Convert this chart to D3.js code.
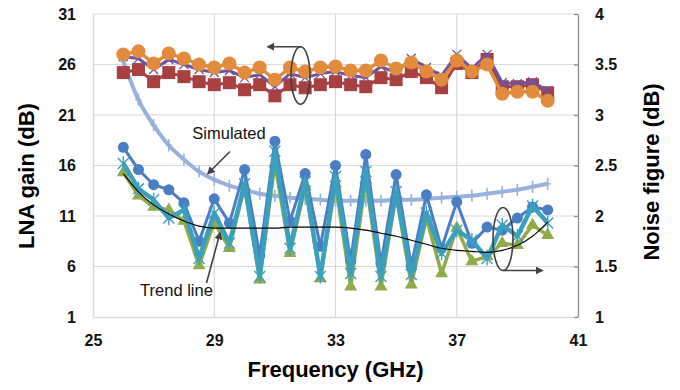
<!DOCTYPE html>
<html>
<head>
<meta charset="utf-8">
<script src="https://cdn.jsdelivr.net/npm/d3@7"></script>
<style>
  body { margin: 0; background: #fff; }
  text { font-family: Arial, 'Liberation Sans', sans-serif; }
</style>
</head>
<body>
<div id="chart"></div>
<script>
const freqs = [26, 26.5, 27, 27.5, 28, 28.5, 29, 29.5, 30, 30.5, 31, 31.5, 32, 32.5, 33,
               33.5, 34, 34.5, 35, 35.5, 36, 36.5, 37, 37.5, 38, 38.5, 39, 39.5, 40];

// LNA gain (dB), left axis
const gainOrange = [27.0, 27.3, 26.1, 27.1, 26.6, 26.0, 25.7, 26.1, 25.2, 25.7, 24.5, 25.7, 25.3, 25.7, 25.8,
                    25.4, 25.4, 26.4, 25.6, 26.2, 25.3, 24.5, 26.4, 25.3, 26.0, 23.1, 23.3, 23.3, 22.4];
const gainRed = [25.2, 25.5, 24.3, 25.2, 24.8, 24.3, 24.0, 24.2, 23.5, 24.0, 22.9, 24.0, 23.7, 24.0, 24.3,
                 24.0, 23.8, 24.7, 24.5, 25.3, 24.7, 23.7, 26.1, 25.2, 26.5, 23.8, 23.8, 24.0, 23.2];
const gainPurple = [26.8, 26.6, 25.5, 26.5, 26.0, 25.5, 25.2, 25.4, 24.7, 25.0, 23.8, 25.1, 24.7, 25.1, 25.3,
                    24.9, 24.7, 25.8, 25.2, 26.6, 25.7, 24.9, 27.0, 25.6, 27.0, 24.2, 24.1, 24.3, 23.4];

// Noise figure (dB), right axis
const nfBlue = [2.68, 2.46, 2.31, 2.26, 2.13, 1.75, 2.17, 1.93, 2.46, 1.61, 2.74, 1.95, 2.42, 1.70, 2.50,
                1.56, 2.61, 1.53, 2.41, 1.51, 2.21, 1.68, 2.14, 1.73, 1.89, 1.86, 1.98, 2.09, 2.06];
const nfTeal = [2.52, 2.27, 2.16, 1.98, 2.06, 1.58, 2.03, 1.73, 2.32, 1.40, 2.64, 1.68, 2.34, 1.40, 2.39,
                1.43, 2.44, 1.40, 2.24, 1.42, 2.03, 1.63, 1.86, 1.76, 1.58, 1.91, 1.80, 2.10, 1.93];
const nfGreen = [2.43, 2.20, 2.09, 2.06, 1.95, 1.51, 1.94, 1.68, 2.29, 1.37, 2.52, 1.63, 2.29, 1.38, 2.32,
                 1.30, 2.36, 1.30, 2.21, 1.32, 1.98, 1.43, 1.88, 1.55, 1.60, 1.73, 1.71, 1.91, 1.81];
const nfTrend = [2.42, 2.24, 2.11, 2.02, 1.95, 1.90, 1.88, 1.88, 1.88, 1.88, 1.88, 1.89, 1.89, 1.89, 1.89,
                 1.88, 1.86, 1.83, 1.80, 1.76, 1.72, 1.68, 1.66, 1.65, 1.64, 1.66, 1.71, 1.80, 1.94];
const nfSimulated = [3.53, 3.15, 2.90, 2.70, 2.56, 2.44, 2.36, 2.30, 2.26, 2.22, 2.20, 2.18, 2.17, 2.16, 2.15,
                     2.15, 2.15, 2.15, 2.16, 2.16, 2.17, 2.18, 2.19, 2.20, 2.22, 2.24, 2.26, 2.29, 2.32];

const xTicks = [25, 29, 33, 37, 41];
const gainTicks = [1, 6, 11, 16, 21, 26, 31];
const nfTicks = [1, 1.5, 2, 2.5, 3, 3.5, 4];

const width = 680, height = 390;
const margin = {top: 14, right: 102, bottom: 73, left: 93};

const svg = d3.select('#chart').append('svg')
    .attr('width', width)
    .attr('height', height);

const x = d3.scaleLinear().domain([25, 41]).range([margin.left, width - margin.right]);
const yL = d3.scaleLinear().domain([1, 31]).range([height - margin.bottom, margin.top]);
const yR = d3.scaleLinear().domain([1, 4]).range([height - margin.bottom, margin.top]);

const gridColor = '#d9d9d9';

// grid
svg.append('g')
  .selectAll('line')
  .data(gainTicks.slice(1))
  .join('line')
    .attr('x1', x(25)).attr('x2', x(41))
    .attr('y1', d => yL(d)).attr('y2', d => yL(d))
    .attr('stroke', gridColor).attr('stroke-width', 1.2);
svg.append('g')
  .selectAll('line')
  .data(xTicks.slice(1, -1))
  .join('line')
    .attr('x1', d => x(d)).attr('x2', d => x(d))
    .attr('y1', yL(1)).attr('y2', yL(31))
    .attr('stroke', gridColor).attr('stroke-width', 1.2);

// axes
const xAxis = svg.append('g')
    .attr('transform', 'translate(0,' + yL(1) + ')')
    .call(d3.axisBottom(x).tickValues(xTicks).tickSize(0).tickPadding(18).tickFormat(d3.format('d')));
xAxis.select('.domain').attr('stroke', gridColor).attr('stroke-width', 1.5);

const leftAxis = svg.append('g')
    .attr('transform', 'translate(' + x(25) + ',0)')
    .call(d3.axisLeft(yL).tickValues(gainTicks).tickSize(0).tickPadding(17).tickFormat(d3.format('d')));
leftAxis.select('.domain').attr('stroke', gridColor).attr('stroke-width', 1.5);

const rightAxis = svg.append('g')
    .attr('transform', 'translate(' + x(41) + ',0)')
    .call(d3.axisRight(yR).tickValues(nfTicks).tickSizeInner(-4).tickSizeOuter(0).tickPadding(17).tickFormat(d3.format('~g')));
rightAxis.select('.domain').attr('stroke', '#8c8c8c').attr('stroke-width', 1.3);
rightAxis.selectAll('.tick line').attr('stroke', '#8c8c8c').attr('stroke-width', 1.3);

svg.selectAll('.tick text')
    .attr('font-family', "Arial, 'Liberation Sans', sans-serif")
    .attr('font-size', 16)
    .attr('font-weight', 'bold')
    .attr('fill', '#111');

// axis titles
svg.append('text')
    .attr('x', (x(25) + x(41)) / 2)
    .attr('y', 377)
    .attr('text-anchor', 'middle')
    .attr('font-size', 22).attr('font-weight', 'bold')
    .text('Frequency (GHz)');
svg.append('text')
    .attr('transform', 'translate(34,176) rotate(-90)')
    .attr('text-anchor', 'middle')
    .attr('font-size', 22).attr('font-weight', 'bold')
    .text('LNA gain (dB)');
svg.append('text')
    .attr('transform', 'translate(659,172) rotate(-90)')
    .attr('text-anchor', 'middle')
    .attr('font-size', 22).attr('font-weight', 'bold')
    .text('Noise figure (dB)');

// markers
const markers = {
  circle: r => d3.symbol(d3.symbolCircle, Math.PI * r * r)(),
  square: s => d3.symbol(d3.symbolSquare, s * s)(),
  triangle: s => d3.symbol(d3.symbolTriangle, 0.433 * s * s)(),
  cross: s => 'M' + -s + ',' + -s + 'L' + s + ',' + s + 'M' + -s + ',' + s + 'L' + s + ',' + -s,
  star: s => 'M' + -s + ',' + -s + 'L' + s + ',' + s + 'M' + -s + ',' + s + 'L' + s + ',' + -s + 'M0,' + (-s * 1.3) + 'V' + (s * 1.3),
  plus: s => 'M0,' + -s + 'V' + s + 'M' + (-s * 0.5) + ',0H' + (s * 0.5)
};

function drawSeries(values, y, opt) {
  const pts = freqs.map((f, i) => [x(f), y(values[i])]);
  const g = svg.append('g');
  g.append('path')
      .datum(pts)
      .attr('fill', 'none')
      .attr('stroke', opt.color)
      .attr('stroke-width', opt.width)
      .attr('stroke-linejoin', 'round')
      .attr('d', d3.line().curve(opt.curve || d3.curveLinear));
  if (opt.marker) {
    g.selectAll('path.m')
      .data(pts)
      .join('path')
        .attr('class', 'm')
        .attr('transform', d => 'translate(' + d[0] + ',' + d[1] + ')')
        .attr('d', opt.marker)
        .attr('fill', opt.filled ? opt.color : 'none')
        .attr('stroke', opt.filled ? 'none' : opt.color)
        .attr('stroke-width', opt.mwidth || 1.5);
  }
}

// simulated noise figure underneath
drawSeries(nfSimulated, yR, {color: '#98b1da', width: 4, curve: d3.curveMonotoneX,
  marker: markers.plus(6), mwidth: 1.6});

// gain
drawSeries(gainRed, yL, {color: '#a8403f', width: 3, marker: markers.square(13), filled: true});
drawSeries(gainPurple, yL, {color: '#7052a0', width: 3, marker: markers.cross(4.5), mwidth: 1.3});
drawSeries(gainOrange, yL, {color: '#e38b3d', width: 3.5, marker: markers.circle(7), filled: true});

// noise figure
drawSeries(nfGreen, yR, {color: '#8fab4a', width: 3.5, marker: markers.triangle(13), filled: true});
drawSeries(nfBlue, yR, {color: '#4a7ec4', width: 3, marker: markers.circle(5.5), filled: true});
drawSeries(nfTeal, yR, {color: '#3aa0be', width: 4.5, marker: markers.star(5.5), mwidth: 1.4});
drawSeries(nfTrend, yR, {color: '#000', width: 1.1, curve: d3.curveMonotoneX});

// annotations
const annColor = '#404040';
svg.append('defs').append('marker')
    .attr('id', 'head')
    .attr('viewBox', '0 0 10 10')
    .attr('refX', 8).attr('refY', 5)
    .attr('markerWidth', 5).attr('markerHeight', 5)
    .attr('orient', 'auto')
  .append('path')
    .attr('d', 'M0,0L10,5L0,10Z')
    .attr('fill', annColor);

function arrow(x1, y1, x2, y2) {
  svg.append('line')
      .attr('x1', x1).attr('y1', y1).attr('x2', x2).attr('y2', y2)
      .attr('stroke', annColor).attr('stroke-width', 1.6)
      .attr('marker-end', 'url(#head)');
}

svg.append('ellipse')
    .attr('cx', 300.5).attr('cy', 75.5).attr('rx', 9.5).attr('ry', 28.8)
    .attr('fill', 'none').attr('stroke', annColor).attr('stroke-width', 1.6);
arrow(301, 46.7, 268, 46.7);

svg.append('ellipse')
    .attr('cx', 503).attr('cy', 239).attr('rx', 10).attr('ry', 31.5)
    .attr('fill', 'none').attr('stroke', annColor).attr('stroke-width', 1.6);
arrow(503, 270.5, 542, 270.5);

svg.append('text')
    .attr('x', 229).attr('y', 139)
    .attr('text-anchor', 'middle')
    .attr('font-size', 16.5).attr('fill', '#111')
    .text('Simulated');
arrow(230, 151.5, 208, 173.5);

svg.append('text')
    .attr('x', 176.5).attr('y', 296)
    .attr('text-anchor', 'middle')
    .attr('font-size', 16.5).attr('fill', '#111')
    .text('Trend line');
arrow(206.5, 283, 220, 233);
</script>
</body>
</html>
